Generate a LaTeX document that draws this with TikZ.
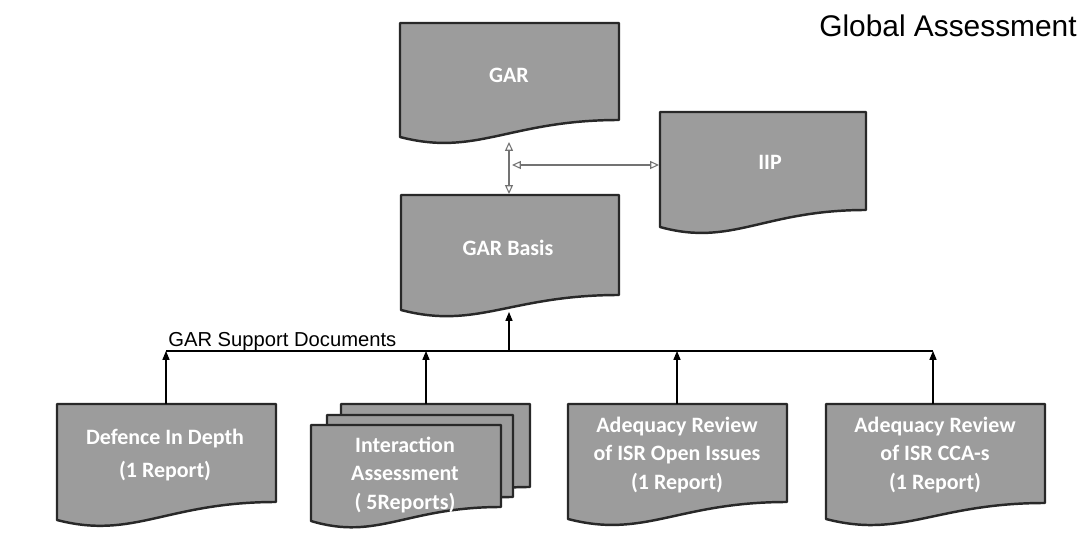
\documentclass[tikz,border=0pt]{standalone}
\usepackage{fontspec}
\setmainfont{Liberation Sans}
\newfontfamily\sheetfont{Carlito}
\usetikzlibrary{arrows.meta}
\definecolor{sheetgray}{RGB}{156,156,156}
\definecolor{sheetedge}{RGB}{40,40,40}
\definecolor{linkgray}{RGB}{115,115,115}
\tikzset{
  sheetlabel/.style={font=\sheetfont\bfseries\fontsize{12.5}{16}\selectfont, text=white, align=center, inner sep=0pt},
  feed/.style={black, line width=0.6pt, -{Triangle[length=5pt,width=4pt]}},
  link/.style={linkgray, line width=0.6pt, {Triangle[open,length=5pt,width=4.5pt]}-{Triangle[open,length=5pt,width=4.5pt]}}
}
% sheet: left, top, right, bottom left, bottom right
\newcommand{\sheet}[5]{ \draw[sheetedge, line width=1.4pt, fill=sheetgray, line join=round] (#1,#2) -- (#3,#2) -- (#3,#5) .. controls ({#1+0.5*(#3-#1)},#5) and ({#1+0.35*(#3-#1)},{#4+20}) .. (#1,#4) -- cycle;}
\newcommand{\sheetnode}[4]{\node[sheetlabel] (#1) at ( #2 , #3 ) {#4};}

\begin{document}
\begin{tikzpicture}[x=0.02cm,y=-0.02cm]
        \useasboundingbox (0,0) rectangle (1083,540);
        % title
        \node[anchor=base east, font=\fontsize{17}{20}\selectfont, inner sep=0pt] (title) at (1077,37) {Global Assessment};
        % top sheets
        \sheet{400}{23}{619}{137}{120}
        \sheet{660}{112}{866}{227}{210}
        \sheet{401}{195}{619}{310}{295}
        % bottom sheets
        \sheet{57}{404}{276}{520}{502}
        \sheet{341}{404}{530}{503}{487}
        \sheet{327}{415}{513}{512}{497}
        \sheet{311}{425}{501}{521}{507}
        \sheet{568}{404}{787}{519}{502}
        \sheet{826}{404}{1045}{519}{503}
        % texts
        \sheetnode{gar}{509}{75}{GAR}
        \sheetnode{iip}{770}{162}{IIP}
        \sheetnode{basis}{508}{248}{GAR Basis}
        \sheetnode{did}{165}{455}{Defence In Depth\\[3pt](1 Report)}
        \sheetnode{ia}{405}{475}{Interaction\\Assessment\\( 5Reports)}
        \sheetnode{aroi}{677}{455}{Adequacy Review\\of ISR Open Issues\\(1 Report)}
        \sheetnode{arcca}{935}{455}{Adequacy Review\\of ISR CCA-s\\(1 Report)}
        % links between top sheets
        \coordinate (garfoot) at (509,142);
        \coordinate (basishead) at (509,194);
        \coordinate (garside) at (512,165);
        \coordinate (iipside) at (659,165);
        \draw[link] (garfoot) -- (basishead);
        \draw[link] (garside) -- (iipside);
        % support bus
        \coordinate (busleft) at (166,351);
        \coordinate (busright) at (933,351);
        \coordinate (busmid) at (509,351);
        \coordinate (basisfoot) at (509,312);
        \draw[black, line width=0.6pt] (busleft) -- (busright);
        \draw[feed] (busmid) -- (basisfoot);
        \node[anchor=base west, font=\fontsize{11.5}{14}\selectfont, inner sep=0pt] (support) at (168,347) {GAR Support Documents};
        % feeds into bus
        \coordinate (didtop) at (166,404);
        \coordinate (iatop) at (426,404);
        \coordinate (aroitop) at (677,404);
        \coordinate (arccatop) at (933,404);
        \coordinate (busia) at (426,351);
        \coordinate (busaroi) at (677,351);
        \draw[feed] (didtop) -- (busleft);
        \draw[feed] (iatop) -- (busia);
        \draw[feed] (aroitop) -- (busaroi);
        \draw[feed] (arccatop) -- (busright);
\end{tikzpicture}
\end{document}
